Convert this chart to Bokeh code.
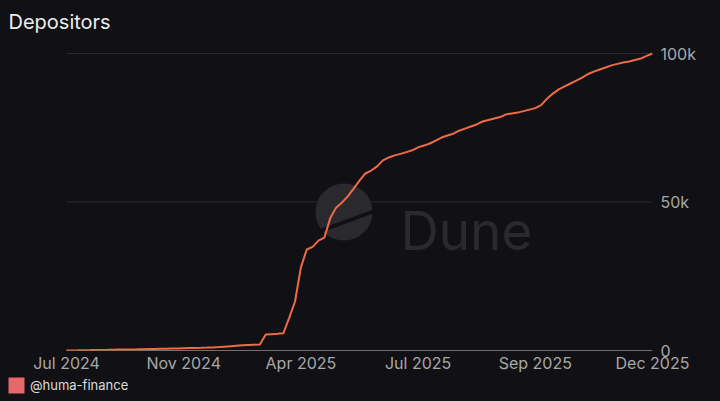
import numpy as np
from bokeh.plotting import figure
from bokeh.layouts import column
from bokeh.models import (Range1d, FixedTicker, NumeralTickFormatter, Label,
                          Legend, LegendItem, ColumnDataSource)
from bokeh.embed import file_html
from bokeh.resources import INLINE

# ---------------- data ----------------
title_text = "Depositors"
series_name = "@huma-finance"
tick_labels = ["Jul 2024", "Nov 2024", "Apr 2025", "Jul 2025", "Sep 2025", "Dec 2025"]
depositors_k = [
    0.0, 0.03, 0.06, 0.1, 0.13, 0.17, 0.2, 0.23, 0.27, 0.3,
    0.33, 0.37, 0.4, 0.44, 0.48, 0.52, 0.56, 0.6, 0.65, 0.7,
    0.75, 0.8, 0.85, 0.9, 0.97, 1.05, 1.15, 1.3, 1.45, 1.6,
    1.75, 1.85, 1.95, 2.05, 5.4, 5.5, 5.6, 5.8, 11.0, 16.5,
    28.0, 34.0, 34.9, 37.0, 38.0, 44.5, 48.1, 49.8, 51.9, 54.5,
    57.2, 59.6, 60.6, 62.0, 64.0, 65.0, 65.7, 66.2, 66.8, 67.4,
    68.4, 69.0, 69.7, 70.7, 71.7, 72.4, 73.0, 74.0, 74.7, 75.4,
    76.1, 77.1, 77.6, 78.1, 78.6, 79.5, 79.8, 80.1, 80.6, 81.1,
    81.6, 82.6, 84.8, 86.5, 87.9, 88.9, 89.9, 90.9, 91.9, 93.1,
    93.9, 94.6, 95.3, 96.0, 96.5, 97.0, 97.3, 97.8, 98.3, 99.2,
    100.0,
]
y_ticks = [0, 50000, 100000]

depositors = [v * 1000 for v in depositors_k]
idx = list(range(len(depositors)))
n_last = len(idx) - 1

# ---------------- style ----------------
BG = "#111014"
FONT = "Inter"
LINE = "#ee6c45"
GRID = "#2a2a2e"
BASE = "#cfcfcf"
LABEL = "#a8a8a8"

W = 720
H1, H2 = 375, 26
FL = 6                # frame left (page px)
PL, PR = 66, 652      # plot-area left/right where the series lives
MT, MB = 44, 25
MR = W - PR
frame_h = H1 - MT - MB

ymax = max(depositors) * frame_h / (frame_h - 9)
x_start = -(PL - FL) / (PR - PL) * n_last

p = figure(width=W, height=H1, output_backend="svg", toolbar_location=None,
           x_range=Range1d(x_start, n_last), y_range=Range1d(0, ymax),
           y_axis_location="right", min_border_left=FL, min_border_right=MR,
           min_border_top=MT, min_border_bottom=MB)
p.background_fill_color = BG
p.border_fill_color = BG
p.outline_line_color = None

# title (above panel)
p.title.text = title_text
p.title.text_font = FONT
p.title.text_font_size = "20px"
p.title.text_font_style = "normal"
p.title.text_color = "#ececec"
p.title.align = "left"
p.title.offset = 8 - FL
p.title.vertical_align = "top"
p.title.standoff = 17

# grid lines and baseline spanning the series' extent
grid_vals = [t for t in y_ticks if t > 0]
p.segment(x0=[idx[0]] * len(grid_vals), y0=grid_vals,
          x1=[idx[-1]] * len(grid_vals), y1=grid_vals,
          line_color=GRID, line_width=1)
p.segment(x0=[idx[0]], y0=[y_ticks[0]], x1=[idx[-1]], y1=[y_ticks[0]],
          line_color=BASE, line_width=1)

# Dune watermark (pixel helper)
def px_to_x(px):
    return (px - PL) / (PR - PL) * n_last
def py_to_y(py):
    return (MT + frame_h - py) / frame_h * ymax

p.scatter([px_to_x(343.5)], [py_to_y(211.5)], size=57, marker="circle",
          fill_color=GRID, line_color=None, level="underlay")
p.segment([px_to_x(318)], [py_to_y(231)], [px_to_x(373)], [py_to_y(211)],
          line_color=BG, line_width=3.5, level="underlay")
p.add_layout(Label(x=400 - FL, y=MT + frame_h - 230, x_units="screen",
                   y_units="screen", text="Dune", text_font=FONT,
                   text_font_size="53px", text_color=GRID,
                   text_baseline="alphabetic", level="underlay"))

src = ColumnDataSource(dict(x=idx, y=depositors))
p.line("x", "y", source=src, line_color=LINE, line_width=2)

# x axis
xticks = list(np.linspace(0, n_last, len(tick_labels)))
p.xaxis.ticker = FixedTicker(ticks=xticks)
p.xaxis.major_label_overrides = {t: lab for t, lab in zip(xticks, tick_labels)}
p.xaxis.axis_line_color = None
p.xaxis.major_tick_out = 0
p.xaxis.major_tick_in = 0
p.xaxis.minor_tick_out = 0
p.xaxis.minor_tick_in = 0
p.xaxis.major_label_standoff = 2
p.xaxis.major_label_text_font = FONT
p.xaxis.major_label_text_font_size = "16px"
p.xaxis.major_label_text_color = LABEL

# y axis
p.yaxis.ticker = FixedTicker(ticks=y_ticks)
p.yaxis.formatter = NumeralTickFormatter(format="0a")
p.yaxis.axis_line_color = None
p.yaxis.major_tick_out = 0
p.yaxis.major_tick_in = 0
p.yaxis.minor_tick_out = 0
p.yaxis.minor_tick_in = 0
p.yaxis.major_label_standoff = 8
p.yaxis.major_label_text_font = FONT
p.yaxis.major_label_text_font_size = "16px"
p.yaxis.major_label_text_color = LABEL

p.xgrid.grid_line_color = None
p.ygrid.grid_line_color = None

# legend strip
lg = figure(width=W, height=H2, output_backend="svg", toolbar_location=None,
            x_range=Range1d(0, 1), y_range=Range1d(0, 1),
            x_axis_type=None, y_axis_type=None,
            min_border_left=FL, min_border_right=MR, min_border_top=0,
            min_border_bottom=0)
lg.background_fill_color = BG
lg.border_fill_color = BG
lg.outline_line_color = None
lg.grid.visible = False
swatch = lg.quad(left=[0], right=[0], top=[0], bottom=[0],
                 fill_color="#e6686c", line_color=None)
legend = Legend(items=[LegendItem(label=series_name, renderers=[swatch])],
                location=(0, 6), orientation="horizontal",
                padding=0, margin=0, glyph_width=20, glyph_height=20,
                label_standoff=4, border_line_color=None,
                background_fill_alpha=0, label_text_font=FONT,
                label_text_font_size="13px", label_text_color="#dcdcdc")
lg.add_layout(legend, "center")

layout = column(p, lg, spacing=0)
layout.styles = {"background-color": BG}
open("out.html", "w").write(file_html(layout, INLINE))
